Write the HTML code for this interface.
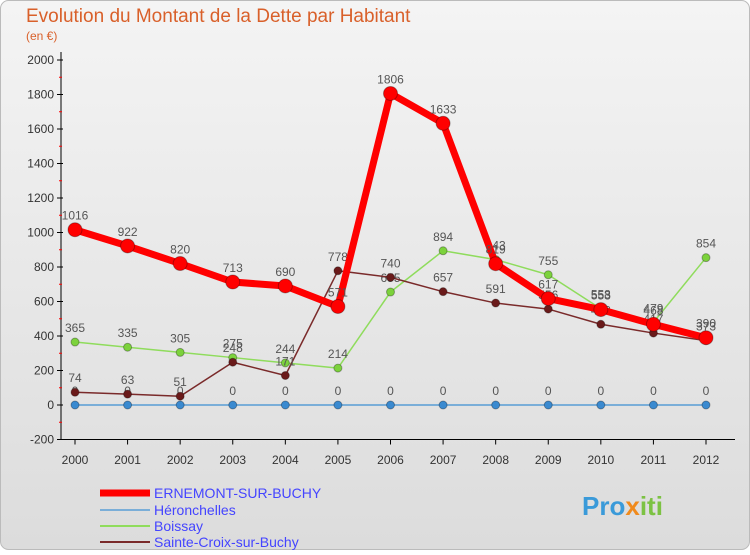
<!DOCTYPE html>
<html><head><meta charset="utf-8"><style>
body{margin:0;width:750px;height:550px;overflow:hidden;font-family:"Liberation Sans",sans-serif}
</style></head><body>
<svg width="750" height="550" xmlns="http://www.w3.org/2000/svg">
<defs><linearGradient id="bg" x1="0" y1="0" x2="0" y2="1"><stop offset="0" stop-color="#f4f4f4"/><stop offset="1" stop-color="#dcdcdc"/></linearGradient></defs>
<rect x="0.5" y="0.5" width="749" height="549" rx="8" fill="url(#bg)" stroke="#bbb"/>
<text x="26" y="22" font-size="19" fill="#d9602a">Evolution du Montant de la Dette par Habitant</text>
<text x="26" y="40" font-size="12" fill="#d9602a">(en €)</text>
<g id="axes"></g><g id="series"></g>
<g>
<line x1="100" y1="493" x2="150" y2="493" stroke="#f00" stroke-width="7"/><text x="154" y="498" font-size="14" fill="#44f">ERNEMONT-SUR-BUCHY</text>
<line x1="100" y1="510" x2="150" y2="510" stroke="#7aaed8" stroke-width="2"/><text x="154" y="515" font-size="14" fill="#44f">Héronchelles</text>
<line x1="100" y1="526" x2="150" y2="526" stroke="#8fdc5c" stroke-width="2"/><text x="154" y="531" font-size="14" fill="#44f">Boissay</text>
<line x1="100" y1="542" x2="150" y2="542" stroke="#7a2a2a" stroke-width="2"/><text x="154" y="547" font-size="14" fill="#44f">Sainte-Croix-sur-Buchy</text>
</g>
<text x="582" y="515" font-size="26" font-weight="bold" fill="#3a9ad9">Pro<tspan fill="#f08a1c">x</tspan><tspan fill="#7cc243">iti</tspan></text>
</svg>
<script>
const years=[2000,2001,2002,2003,2004,2005,2006,2007,2008,2009,2010,2011,2012];
const ernemont=[1016,922,820,713,690,571,1806,1633,819,617,553,468,390];
const heronchelles=[0,0,0,0,0,0,0,0,0,0,0,0,0];
const boissay=[365,335,305,275,244,214,655,894,843,755,558,479,854];
const sainteCroix=[74,63,51,248,171,778,740,657,591,556,468,417,373];
const yTicks=[-200,0,200,400,600,800,1000,1200,1400,1600,1800,2000];
const NS="http://www.w3.org/2000/svg";
const X=i=>75+i*(706-75)/12;
const Y=v=>405-v*(345/2000);
function mk(tag,attrs,parent){const e=document.createElementNS(NS,tag);for(const k in attrs)e.setAttribute(k,attrs[k]);parent.appendChild(e);return e;}
const ax=document.getElementById('axes');
let a=mk('line',{x1:61,y1:Y(2000)-8,x2:61,y2:Y(-200),stroke:'#000'},ax);


yTicks.forEach((t,k)=>{
 mk('line',{x1:57,y1:Y(t),x2:63,y2:Y(t),stroke:'#000'},ax);
 if(k<yTicks.length-1) mk('line',{x1:59,y1:Y(t+100),x2:62,y2:Y(t+100),stroke:'#f00'},ax);
 const tx=mk('text',{x:54,y:Y(t)+4,'font-size':12,'text-anchor':'end',fill:'#333'},ax);tx.textContent=t;
 
 
});
let xa=mk('line',{x1:61,y1:Y(-200),x2:735,y2:Y(-200),stroke:'#000'},ax);


years.forEach((y,i)=>{
 mk('line',{x1:X(i),y1:Y(-200),x2:X(i),y2:Y(-200)+5,stroke:'#000'},ax);
 const tx=mk('text',{x:X(i),y:464,'font-size':12,'text-anchor':'middle',fill:'#333'},ax);tx.textContent=y;
 
 
});
const sg=document.getElementById('series');
function draw(vals,name,color,w,r,dot){
 const g=mk('g',{},sg);
 
 
 mk('polyline',{points:vals.map((v,i)=>X(i)+','+Y(v)).join(' '),fill:'none',stroke:color,'stroke-width':w,'stroke-linejoin':'round'},g);
 vals.forEach((v,i)=>{
  const c=mk('circle',{cx:X(i),cy:Y(v),r:r,fill:dot,stroke:'rgba(0,0,0,0.3)'},g);
  
  
  const t=mk('text',{x:X(i),y:Y(v)-10,'font-size':12,'text-anchor':'middle',fill:'#555'},g);t.textContent=v;
 });
}
draw(heronchelles,'series-heronchelles','#7aaed8',2,4,'#3a8ad0');
draw(boissay,'series-boissay','#8fdc5c',1.5,4,'#7cd23c');
draw(sainteCroix,'series-sainte-croix','#7a2a2a',1.5,4,'#6a1a1a');
draw(ernemont,'series-ernemont','#f00',7,7,'#f00');
</script>
</body></html>
